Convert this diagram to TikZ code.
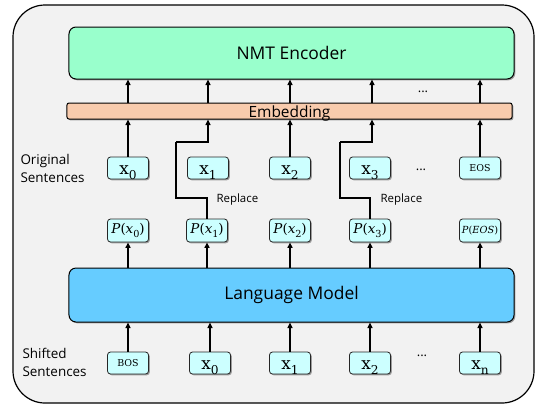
\documentclass[tikz,border=0pt]{standalone}
\usepackage{fontspec}
\setsansfont{Open Sans}
\newfontfamily\tokfont{DejaVu Serif}
\usetikzlibrary{shadows,arrows.meta}
\definecolor{outerbg}{HTML}{F2F2F2}
\definecolor{encfill}{HTML}{99FFCC}
\definecolor{embfill}{HTML}{F8CBAD}
\definecolor{lmfill}{HTML}{66CCFF}
\definecolor{tokfill}{HTML}{CCFFFF}
\newcommand{\tsub}[2]{#1\raisebox{-0.3em}{\scalebox{0.72}{#2}}}
\tikzset{
  shad/.style={drop shadow={shadow xshift=1.3bp, shadow yshift=-1.3bp, opacity=0.35, fill=black}},
  bigbox/.style={draw=black, line width=1bp, rounded corners=7bp, shad, inner sep=0pt,
    minimum width=445bp, font=\sffamily\fontsize{17.5}{17.5}\selectfont},
  tok/.style={draw=black!85, line width=0.8bp, rounded corners=3bp, fill=tokfill, shad,
    minimum width=41bp, minimum height=22bp, inner sep=0pt},
  xtok/.style={tok, font=\tokfont\fontsize{17}{17}\selectfont, text height=13bp, text depth=0bp},
  ptok/.style={tok, minimum height=23bp, font=\tokfont\fontsize{13.5}{13.5}\selectfont},
  stok/.style={tok, font=\tokfont\fontsize{9.5}{9.5}\selectfont},
  arr/.style={line width=2bp, -{Triangle[length=5.5bp,width=5bp]}},
  pl/.style={line width=2bp},
  lbl/.style={font=\sffamily\fontsize{13.5}{18}\selectfont, align=left, anchor=west},
  rep/.style={font=\sffamily\fontsize{11.5}{11.5}\selectfont, anchor=west},
  dots/.style={font=\sffamily\fontsize{13}{13}\selectfont, anchor=base}
}
\begin{document}
\begin{tikzpicture}[x=1bp,y=-1bp]
\useasboundingbox (0,0) rectangle (536,405);
\draw[fill=outerbg, line width=1.2bp, rounded corners=32bp] (13,5) rectangle (534,403);

% big boxes
\node[bigbox, fill=encfill, minimum height=52bp] (enc) at (291.5,53) {NMT Encoder};
\node[bigbox, fill=embfill, minimum height=16bp, rounded corners=2bp] (emb) at (289.5,111) {};
\node[font=\sffamily\fontsize{15.5}{15.5}\selectfont] (embt) at (289.5,113.5) {Embedding};
\node[bigbox, fill=lmfill, minimum height=54bp] (lm) at (291.5,295) {Language Model};

% original sentence tokens
\node[xtok] (o0) at (128,168) {\tsub{x}{0}};
\node[xtok] (o1) at (208,168) {\tsub{x}{1}};
\node[xtok] (o2) at (290,168) {\tsub{x}{2}};
\node[xtok] (o3) at (370,168) {\tsub{x}{3}};
\node[stok] (o4) at (480,168) {EOS};

% predictions
\node[ptok] (p0) at (128,230.5) {\textit{P}(\tsub{\textit{x}}{0})};
\node[ptok] (p1) at (207,230.5) {\textit{P}(\tsub{\textit{x}}{1})};
\node[ptok] (p2) at (290,230.5) {\textit{P}(\tsub{\textit{x}}{2})};
\node[ptok] (p3) at (370,230.5) {\textit{P}(\tsub{\textit{x}}{3})};
\node[ptok, font=\tokfont\fontsize{9.8}{9.8}\selectfont] (p4) at (480,230.5) {\textit{P}(\textit{EOS})};

% shifted tokens
\node[stok] (s0) at (128,363) {BOS};
\node[xtok] (s1) at (210,363) {\tsub{x}{0}};
\node[xtok] (s2) at (290,363) {\tsub{x}{1}};
\node[xtok] (s3) at (370,363) {\tsub{x}{2}};
\node[xtok] (s4) at (480,363) {\tsub{x}{n}};

% labels
\node[lbl] (lo) at (17,168) {Original\\Sentences};
\node[lbl] (ls) at (19,362) {Shifted\\Sentences};
\node[dots] (d1) at (423,92) {...};
\node[dots] (d2) at (421,170) {...};
\node[dots] (d3) at (422,356) {...};
\node[rep] (r1) at (213,200) {Replace};
\node[rep] (r2) at (377,200) {Replace};

% embedding -> encoder
\foreach \n in {o0,o1,o2,o4}
  \draw[arr] (\n.north |- emb.north) -- (\n.north |- enc.south);
\draw[arr] ([xshift=2bp]o3.north |- emb.north) -- ([xshift=2bp]o3.north |- enc.south);

% tokens -> embedding
\foreach \n in {o0,o2,o4}
  \draw[arr] (\n.north) -- (\n.north |- emb.south);

% replace paths
\coordinate (a1) at (176,198);
\coordinate (b1) at (176,142);
\coordinate (a3) at (340,198);
\coordinate (b3) at (340,142);
\draw[pl] (p1.north) |- (a1) -- (b1);
\draw[arr] (b1) -| (o1.north |- emb.south);
\draw[pl] (p3.north) |- (a3) -- (b3);
\draw[arr] (b3) -| ([xshift=2bp]o3.north |- emb.south);

% LM -> predictions
\foreach \n in {p0,p1,p2,p3,p4}
  \draw[arr] (\n.south |- lm.north) -- (\n.south);

% shifted -> LM
\foreach \n in {s0,s1,s2,s3,s4}
  \draw[arr] (\n.north) -- (\n.north |- lm.south);
\end{tikzpicture}
\end{document}
